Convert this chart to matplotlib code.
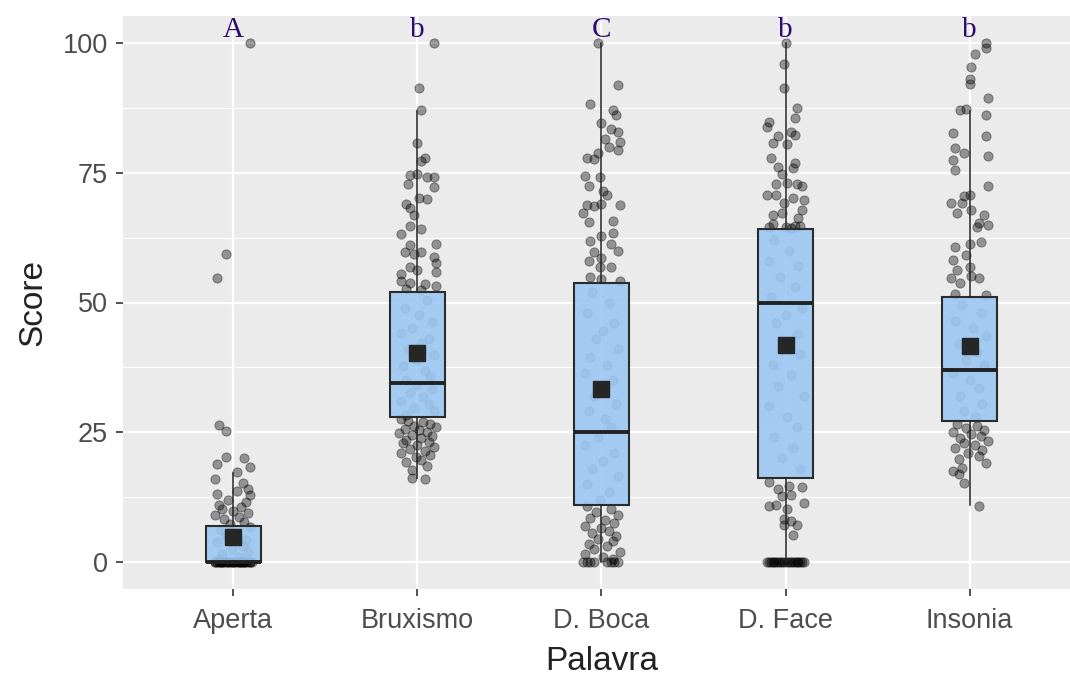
import numpy as np
import matplotlib.pyplot as plt
from matplotlib.ticker import MultipleLocator

# categories and significance letters
palavras = ['Aperta', 'Bruxismo', 'D. Boca', 'D. Face', 'Insonia']
letras = ['A', 'b', 'C', 'b', 'b']

# box statistics: q1, median, q3, whisker low, whisker high, mean
q1 = [0, 27.9, 11.0, 16.1, 27.1]
medianas = [0, 34.5, 25.0, 50.0, 37.0]
q3 = [7.0, 52.1, 53.8, 64.1, 51.0]
whis_lo = [0, 16.2, 0, 0, 11.0]
whis_hi = [17.2, 86.9, 100, 100, 86.9]
medias = [4.8, 40.3, 33.4, 41.9, 41.6]

# individual scores (jittered points) and their horizontal jitter
aperta_y = [100, 59.3, 54.7, 26.4, 25.2, 20.3, 20.0, 18.8, 18.4, 17.4, 16.0, 15.2, 14.0, 13.6,
            13.1, 12.9, 12.0, 11.5, 11.0, 10.6, 10.2, 9.8, 9.5, 9.0, 8.6, 8.2, 7.8, 7.4, 6.8,
            6.2, 5.5, 5.0, 4.3, 3.8, 3.0, 2.5, 2.0, 1.5, 1.0, 0.5,
            0, 0, 0, 0, 0, 0, 0, 0, 0, 0, 0, 0, 0, 0, 0, 0, 0, 0, 0, 0,
            0, 0, 0, 0, 0, 0, 0, 0, 0, 0]
aperta_dx = [0.09, -0.04, -0.09, -0.08, -0.04, -0.04, 0.06, -0.09, 0.09, 0.02, -0.10, 0.05, 0.08, 0.02,
             -0.09, 0.09, -0.03, 0.07, -0.08, 0.04, -0.06, 0.00, 0.08, -0.10, 0.03, -0.05, 0.06, -0.02, 0.09,
             -0.07, 0.01, -0.04, 0.07, -0.09, 0.05, -0.01, 0.08, -0.06, 0.03, -0.08,
             -0.10, -0.08, -0.06, -0.05, -0.03, -0.02, 0.00, 0.01, 0.03, 0.04, 0.06, 0.07, 0.09, 0.10, -0.09,
             -0.07, -0.04, -0.01, 0.02, 0.05, 0.08, -0.10, 0.06, -0.03, 0.03, -0.06, 0.09, 0.00, -0.08, 0.04]

brux_y = [100, 91.4, 87.1, 80.7, 77.9, 77.2, 74.5, 74.8, 74.2, 74.1, 72.8, 72.2, 69.0, 70.0, 70.2,
          68.3, 66.9, 63.2, 64.8, 64.1, 61.2, 61.0, 59.8, 59.3, 59.7, 58.8, 57.6, 56.9, 55.4, 56.2,
          55.8, 54.1, 53.8, 53.6, 53.1, 52.6, 52.4,
          50.5, 49.0, 47.6, 46.2, 45.0, 44.1, 43.0, 42.2, 41.0, 39.8, 38.9, 37.7, 36.8, 35.9, 35.0,
          34.2, 33.4, 32.6, 31.8, 31.0, 30.4, 29.7, 29.0, 28.4,
          27.5, 27.2, 26.9, 26.6, 26.3, 26.0, 25.7, 25.4, 25.1, 24.8, 24.5, 24.2, 23.9, 23.6, 23.2,
          22.9, 22.5, 22.1, 21.8, 21.4, 21.0, 20.6, 20.2, 19.7, 19.3, 18.5, 17.8, 16.2, 15.9]
brux_dx = [0.09, 0.01, 0.02, 0.00, 0.04, 0.02, -0.04, 0.00, 0.05, 0.09, -0.05, 0.09, -0.06, 0.05, 0.01,
           -0.04, -0.02, -0.09, -0.04, 0.02, 0.10, -0.04, -0.07, -0.02, 0.02, 0.09, 0.10, -0.04, -0.09, 0.00,
           0.10, -0.09, -0.04, 0.04, 0.10, -0.06, 0.02,
           0.05, -0.07, 0.01, 0.08, -0.03, -0.09, 0.06, 0.02, -0.05, 0.09, -0.01, -0.08, 0.04, 0.07, -0.06,
           0.00, 0.08, -0.04, 0.03, -0.09, 0.06, -0.02, 0.09, -0.06,
           -0.09, -0.05, 0.03, 0.07, -0.02, 0.10, -0.07, 0.01, 0.05, -0.10, -0.03, 0.08, 0.02, -0.06, 0.06,
           -0.08, 0.00, 0.09, -0.04, 0.04, -0.09, 0.07, -0.01, 0.02, -0.06, 0.05, -0.03, -0.03, 0.04]

boca_y = [100, 91.9, 88.3, 87.0, 86.2, 84.5, 83.4, 82.8, 80.9, 81.5, 80.0, 78.8, 77.9, 77.6, 79.3,
          74.3, 72.4, 74.1, 71.4, 70.7, 68.8, 68.6, 68.8, 67.2, 69.0, 65.5, 65.7, 62.8, 63.4, 61.9,
          61.2, 60.0, 59.8, 58.6, 57.9, 56.9, 56.9, 55.0, 54.6, 54.1,
          52, 50, 48, 46, 44.5, 43, 41, 39.5, 38, 36.5, 35, 33.5, 32, 30.5, 29, 27.5, 26, 24, 22.5,
          21, 19.5, 18, 16.5, 15, 13.5, 12,
          10.7, 10.2, 9.6, 9.0, 8.5, 8.0, 7.5, 7.0, 6.5, 6.0, 5.5, 5.0, 4.5, 4.0, 3.5, 3.0, 2.5, 2.0,
          1.5, 1.0, 0.5, 0, 0, 0, 0, 0, 0, 0, 0]
boca_dx = [-0.02, 0.09, -0.06, 0.06, 0.08, 0.00, 0.05, 0.09, 0.10, 0.02, 0.04, -0.02, -0.08, -0.04, 0.09,
           -0.09, -0.07, -0.01, 0.01, 0.03, -0.08, -0.04, 0.10, -0.10, 0.00, -0.07, 0.06, 0.00, 0.06, -0.06,
           0.05, 0.09, -0.04, 0.00, -0.07, -0.01, 0.05, -0.06, 0.00, 0.10,
           -0.05, 0.04, -0.08, 0.07, 0.01, -0.03, 0.09, -0.06, 0.03, -0.09, 0.06, 0.00, -0.04, 0.08, -0.07,
           0.02, 0.05, -0.02, -0.09, 0.07, 0.01, -0.05, 0.09, -0.08, 0.04, -0.01,
           -0.08, 0.05, -0.03, 0.09, -0.06, 0.02, 0.07, -0.09, 0.00, 0.04, -0.05, 0.08, -0.02, 0.06, -0.07,
           0.03, -0.04, 0.10, -0.09, 0.01, 0.06, -0.10, -0.08, -0.06, -0.04, 0.05, 0.07, 0.09, 0.03]

face_y = [100, 96.0, 91.4, 87.4, 85.5, 84.8, 83.8, 82.1, 82.3, 80.7, 80.5, 82.8, 77.9, 76.2, 76.9,
          75.9, 74.7, 73.1, 72.8, 72.4, 72.8, 70.8, 70.7, 70.1, 69.7, 69.2, 66.9, 67.2, 67.9, 66.2,
          64.8, 65.2, 64.6, 64.5, 64.4, 64.7,
          62, 60, 58, 57, 55, 53, 51, 49, 47.5, 46, 44, 42, 40, 38, 36, 34, 32, 30, 28, 26, 24, 22, 20, 18,
          15.5, 14.1, 14.6, 14.5, 12.8, 13.0, 11.4, 10.7, 11.0, 10.3, 8.3, 7.9, 7.2, 7.1, 5.2,
          0, 0, 0, 0, 0, 0, 0, 0, 0, 0, 0, 0, 0, 0, 0, 0, 0, 0, 0, 0]
face_dx = [0.00, -0.01, -0.01, 0.06, 0.05, -0.09, -0.10, -0.04, 0.05, -0.07, 0.01, 0.03, -0.08, -0.04, 0.05,
           0.04, -0.02, 0.01, 0.06, 0.09, -0.05, -0.10, -0.05, 0.04, 0.10, -0.01, -0.07, -0.02, 0.09, 0.07,
           0.05, -0.07, -0.09, 0.00, 0.03, 0.08,
           -0.06, 0.02, -0.09, 0.07, -0.03, 0.05, -0.08, 0.09, 0.00, -0.05, 0.06, -0.02, 0.08, -0.07, 0.03,
           -0.04, 0.10, -0.09, 0.01, 0.06, -0.06, 0.04, -0.02, 0.08,
           -0.09, -0.04, 0.02, 0.09, -0.02, 0.03, 0.10, -0.09, -0.05, 0.01, -0.01, 0.03, 0.06, -0.01, 0.04,
           -0.10, -0.09, -0.08, -0.07, -0.06, -0.05, -0.04, -0.03, -0.02, -0.01, 0.01, 0.02, 0.03, 0.04, 0.05,
           0.06, 0.07, 0.08, 0.09, 0.10]

inso_y = [100, 99.1, 97.8, 95.3, 93.1, 92.1, 89.4, 87.1, 87.2, 86.2, 82.6, 82.1, 79.8, 78.8, 78.3,
          77.4, 75.5, 72.4, 70.6, 70.8, 69.2, 69.2, 67.9, 67.2, 66.9, 65.3, 65.0, 64.5, 61.7, 61.2,
          60.7, 59.1, 58.1, 56.2, 56.9, 54.8, 54.7, 53.8, 55.2, 51.7, 51.5,
          49.5, 48, 46.5, 45, 43.5, 42, 40.5, 39, 38, 36.5, 35, 33.5, 32, 30.5, 29, 28,
          26.6, 26.2, 25.8, 25.4, 25.0, 24.6, 24.2, 23.8, 23.4, 23.0, 22.5, 22.0, 21.5, 21.0, 20.4,
          19.8, 19.0, 18.2, 17.5, 16.9, 15.2, 10.7]
inso_dx = [0.09, 0.09, 0.03, 0.01, 0.00, 0.00, 0.10, -0.05, -0.02, 0.09, -0.09, 0.09, -0.08, -0.03, 0.10,
           -0.09, -0.08, 0.10, -0.03, 0.00, -0.10, -0.04, 0.01, -0.07, 0.08, 0.05, 0.10, 0.04, 0.06, 0.00,
           -0.08, -0.02, -0.09, -0.07, 0.00, 0.05, -0.10, -0.05, 0.01, -0.08, 0.09,
           -0.04, 0.06, -0.08, 0.02, 0.09, -0.06, 0.04, -0.02, 0.08, -0.09, 0.00, 0.05, -0.05, 0.07, -0.03, 0.03,
           -0.07, 0.04, -0.02, 0.08, -0.09, 0.01, 0.06, -0.05, 0.10, -0.03, 0.03, -0.08, 0.07, -0.01, 0.05,
           -0.06, 0.09, -0.04, -0.09, -0.06, -0.03, 0.05]

pontos_y = [aperta_y, brux_y, boca_y, face_y, inso_y]
pontos_dx = [aperta_dx, brux_dx, boca_dx, face_dx, inso_dx]

plt.rcParams['font.family'] = ['Liberation Sans', 'DejaVu Sans']

fig = plt.figure(figsize=(10.7, 6.81), dpi=100)
ax = fig.add_axes([123 / 1070, 92 / 681, (1080 - 123) / 1070, (589 - 16) / 681])
ax.set_facecolor('#EBEBEB')
for s in ax.spines.values():
    s.set_visible(False)

pos = np.arange(1, len(palavras) + 1)

# jittered points
for i in range(len(palavras)):
    x = pos[i] + np.array(pontos_dx[i])
    ax.scatter(x, pontos_y[i], s=44, color='black', alpha=0.38,
               edgecolors='black', linewidths=0.7, zorder=2)

# boxes built from the stats
stats = []
for i in range(len(palavras)):
    stats.append(dict(q1=q1[i], med=medianas[i], q3=q3[i], whislo=whis_lo[i],
                      whishi=whis_hi[i], mean=medias[i], fliers=[]))

ax.bxp(stats, positions=pos, widths=0.3, patch_artist=True, showfliers=False,
       showcaps=False, showmeans=True, manage_ticks=False, zorder=3,
       boxprops=dict(facecolor=(0.61, 0.78, 0.95, 0.9), edgecolor='#2b2b2b', linewidth=1.5),
       medianprops=dict(color='#222222', linewidth=2.8, solid_capstyle='butt'),
       whiskerprops=dict(color='#222222', linewidth=1.1),
       meanprops=dict(marker='s', markersize=11.5, markerfacecolor='#262626',
                      markeredgecolor='#262626'))

# significance letters
for i in range(len(palavras)):
    ax.text(pos[i], 100, letras[i], ha='center', va='bottom', fontsize=21,
            family=['Liberation Serif', 'DejaVu Serif'], color='#2E0B6E', zorder=5)

ax.set_xlim(0.4, 5.6)
ax.set_ylim(-5.2, 105.2)
ax.set_xticks(pos)
ax.set_xticklabels(palavras)
ax.yaxis.set_major_locator(MultipleLocator(25))
ax.yaxis.set_minor_locator(MultipleLocator(12.5))
ax.grid(which='major', color='white', linewidth=1.6, zorder=0)
ax.grid(which='minor', axis='y', color='white', linewidth=0.8, zorder=0)
ax.set_axisbelow(True)

ax.tick_params(axis='both', which='major', length=5, width=1.2, color='#333333',
               labelsize=19.5, labelcolor='#4D4D4D')
ax.tick_params(axis='x', which='major', pad=9)
ax.tick_params(axis='y', which='major', pad=6)
ax.tick_params(axis='y', which='minor', length=0)

ax.set_xlabel('Palavra', fontsize=24, labelpad=8, color='#222222')
ax.set_ylabel('Score', fontsize=24, labelpad=10, color='#222222')

fig.savefig('out.png', dpi=100)
